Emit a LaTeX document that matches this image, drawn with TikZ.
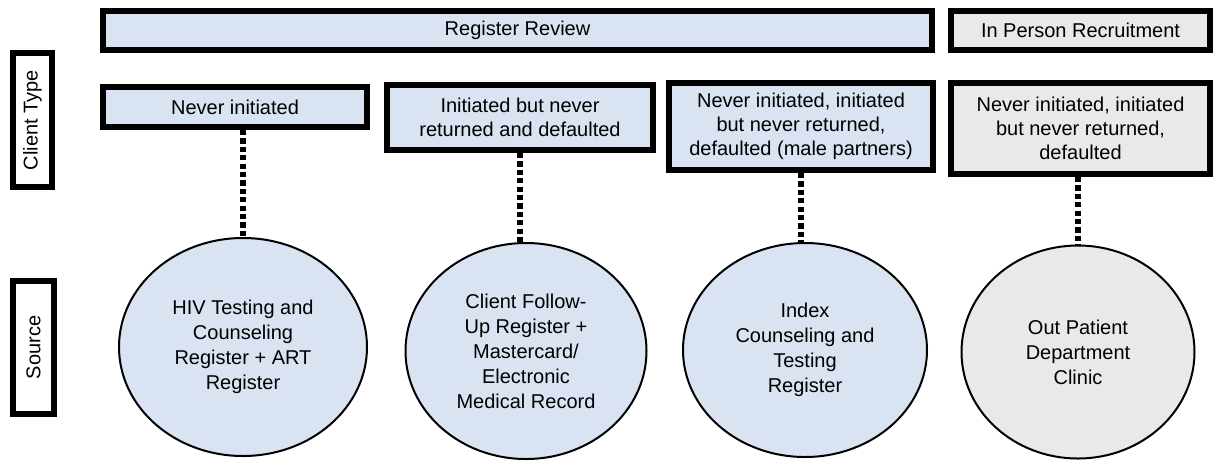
\documentclass[tikz,border=0pt]{standalone}
\usepackage{fontspec}
\setmainfont{Liberation Sans}
\usetikzlibrary{shapes.geometric}
\usepackage{xcolor}
\definecolor{ReviewBlue}{HTML}{DAE3F2}
\definecolor{RecruitGray}{HTML}{E9E9E9}
\definecolor{FrameBlack}{HTML}{000000}
\tikzset{
    % Box styles - thick black frames
    header/.style={
        rectangle,
        draw=FrameBlack,
        line width=3pt,
        minimum height=19.5pt,
        align=center,
        font=\fontsize{10}{12}\selectfont
    },
    clientbox/.style={
        rectangle,
        draw=FrameBlack,
        line width=3pt,
        inner sep=1pt,
        align=center,
        font=\fontsize{10}{12}\selectfont
    },
    sidelabel/.style={
        rectangle,
        draw=FrameBlack,
        fill=white,
        line width=3pt,
        rotate=90,
        minimum height=19.5pt,
        align=center,
        font=\fontsize{10}{12}\selectfont
    },
    % Source ellipses
    sourcenode/.style={
        ellipse,
        draw=FrameBlack,
        line width=1pt,
        inner sep=0pt,
        align=center,
        font=\fontsize{10}{12.5}\selectfont
    },
    % Connector style - square dots
    dotlink/.style={
        line width=2.8pt,
        draw=FrameBlack,
        dash pattern=on 2.6pt off 1.6pt
    }
}
\begin{document}
\begin{tikzpicture}[x=0.5pt, y=-0.5pt]
    \useasboundingbox (0,0) rectangle (1216,462);

    % Recruitment headers
    \node[header, fill=ReviewBlue, minimum width=414.5pt] (review) at (517.5,30.5) {Register Review};
    \node[header, fill=RecruitGray, minimum width=129.5pt] (inperson) at (1080.5,30.5) {In Person Recruitment};

    % Row labels
    \node[sidelabel, minimum width=67pt] (clienttype) at (32.5,120) {Client Type};
    \node[sidelabel, minimum width=66.5pt, minimum height=20.5pt] (source) at (33.5,347.5) {Source};

    % Client types
    \node[clientbox, fill=ReviewBlue, minimum width=132pt, minimum height=20pt] (ct1) at (235,107) {Never initiated};
    \node[clientbox, fill=ReviewBlue, minimum width=133pt, minimum height=32.5pt] (ct2) at (520,117.5) {Initiated but never\\returned and defaulted};
    \node[clientbox, fill=ReviewBlue, minimum width=132pt, minimum height=43.5pt] (ct3) at (801,126.5) {Never initiated, initiated\\but never returned,\\defaulted (male partners)};
    \node[clientbox, fill=RecruitGray, minimum width=129.5pt, minimum height=45.5pt] (ct4) at (1080.5,128.5) {Never initiated, initiated\\but never returned,\\defaulted};

    % Sources
    \node[sourcenode, fill=ReviewBlue, minimum width=124pt, minimum height=109pt] (src1) at (243,347) {HIV Testing and\\Counseling\\Register + ART\\Register};
    \node[sourcenode, fill=ReviewBlue, minimum width=120.5pt, minimum height=108pt] (src2) at (526,351) {Client Follow-\\Up Register +\\Mastercard/\\Electronic\\Medical Record};
    \node[sourcenode, fill=ReviewBlue, minimum width=122pt, minimum height=107pt] (src3) at (805,350) {Index\\Counseling and\\Testing\\Register};
    \node[sourcenode, fill=RecruitGray, minimum width=116.5pt, minimum height=106.5pt] (src4) at (1078,352) {Out Patient\\Department\\Clinic};

    % Links from client type to source
    \draw[dotlink] (src1.north |- ct1.south) -- (src1.north);
    \draw[dotlink] (ct2.south) -- (ct2.south |- src2.north);
    \draw[dotlink] (ct3.south) -- (ct3.south |- src3.north);
    \draw[dotlink] (src4.north |- ct4.south) -- (src4.north);
\end{tikzpicture}
\end{document}
